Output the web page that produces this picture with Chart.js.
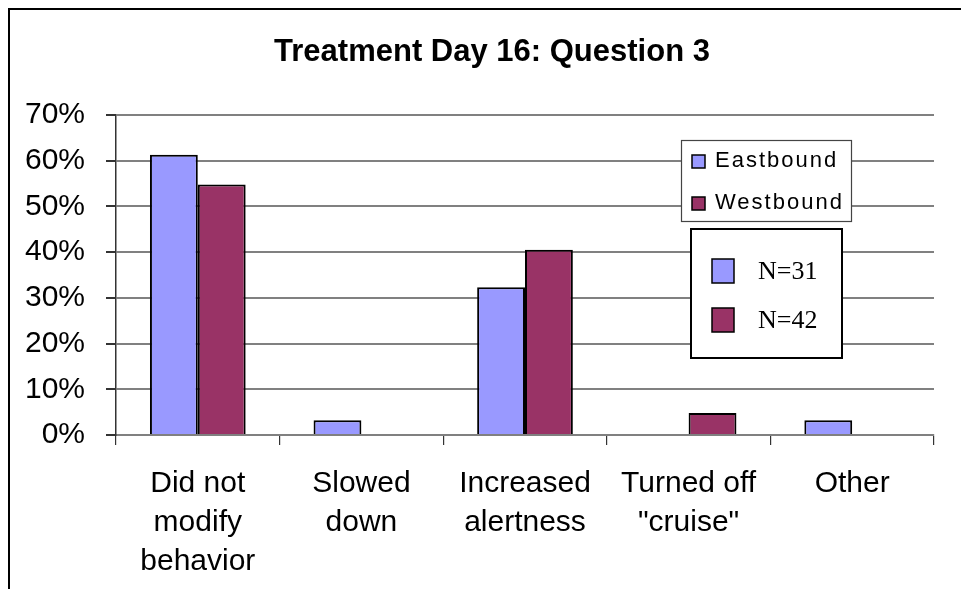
<!DOCTYPE html>
<html>
<head>
<meta charset="utf-8">
<script src="https://cdn.jsdelivr.net/npm/chart.js@4/dist/chart.umd.min.js"></script>
<style>
  html, body { margin: 0; padding: 0; background: #fff; }
  #wrap { width: 961px; height: 589px; }
</style>
</head>
<body>
<div id="wrap"><canvas id="chart" width="961" height="589"></canvas></div>
<script>
// data (fractions)
const categories = [
  ['Did not', 'modify', 'behavior'],
  ['Slowed', 'down'],
  ['Increased', 'alertness'],
  ['Turned off', '"cruise"'],
  ['Other']
];
const eastbound = [0.613, 0.032, 0.323, 0, 0.032];
const westbound = [0.548, 0, 0.405, 0.048, 0];
const seriesNames = ['Eastbound', 'Westbound'];
const sampleLabels = ['N=31', 'N=42'];
const yTicks = [0, 0.1, 0.2, 0.3, 0.4, 0.5, 0.6, 0.7];
const chartTitle = 'Treatment Day 16: Question 3';

const colors = ['#9999ff', '#993366'];

// frame, title and the two legend boxes
const extras = {
  id: 'extras',
  afterDraw(chart) {
    const ctx = chart.ctx;
    ctx.save();
    // outer frame (runs off right/bottom like the original)
    ctx.strokeStyle = '#000';
    ctx.lineWidth = 2;
    ctx.strokeRect(9, 9, 1000, 700);

    // title
    ctx.fillStyle = '#000';
    ctx.font = 'bold 31px "Liberation Sans", Arial, sans-serif';
    ctx.textAlign = 'center';
    ctx.textBaseline = 'middle';
    ctx.fillText(chartTitle, 492, 52);
    ctx.textAlign = 'left';

    // series legend
    ctx.fillStyle = '#fff';
    ctx.fillRect(681.5, 140.5, 170, 81);
    ctx.strokeStyle = '#444';
    ctx.lineWidth = 1.2;
    ctx.strokeRect(681.5, 140.5, 170, 81);
    ctx.font = '22px "Liberation Sans", Arial, sans-serif';
    seriesNames.forEach((name, i) => {
      const y = 161 + i * 42;
      ctx.fillStyle = colors[i];
      ctx.fillRect(692, y - 6, 13, 13);
      ctx.strokeStyle = '#000';
      ctx.lineWidth = 1.5;
      ctx.strokeRect(692, y - 6, 13, 13);
      ctx.fillStyle = '#000';
      ctx.letterSpacing = '2px';
      ctx.fillText(name, 715, y);
    });
    ctx.letterSpacing = '0px';

    // sample size box
    ctx.fillStyle = '#fff';
    ctx.fillRect(691, 229, 151, 129);
    ctx.strokeStyle = '#000';
    ctx.lineWidth = 2;
    ctx.strokeRect(691, 229, 151, 129);
    ctx.font = '26px "Liberation Serif", "Times New Roman", serif';
    sampleLabels.forEach((lab, i) => {
      const y = 271 + i * 49;
      ctx.fillStyle = colors[i];
      ctx.fillRect(712, y - 12, 22, 24);
      ctx.strokeStyle = '#000';
      ctx.lineWidth = 1.5;
      ctx.strokeRect(712, y - 12, 22, 24);
      ctx.fillStyle = '#000';
      ctx.fillText(lab, 758, y + 1);
    });
    ctx.restore();
  }
};

new Chart(document.getElementById('chart'), {
  type: 'bar',
  data: {
    labels: categories,
    datasets: [
      { label: seriesNames[0], data: eastbound, backgroundColor: colors[0], borderColor: '#000', borderWidth: 2 },
      { label: seriesNames[1], data: westbound, backgroundColor: colors[1], borderColor: '#000', borderWidth: 2 }
    ]
  },
  options: {
    responsive: false,
    animation: false,
    devicePixelRatio: 1,
    layout: { padding: { left: 0, right: 27, top: 115, bottom: 0 } },
    datasets: { bar: { categoryPercentage: 0.585, barPercentage: 1 } },
    plugins: {
      legend: { display: false },
      tooltip: { enabled: false },
      title: { display: false }
    },
    scales: {
      x: {
        grid: { display: true, drawOnChartArea: false, offset: true, tickLength: 10, color: '#333', lineWidth: 1.2 },
        border: { color: '#808080', width: 2 },
        ticks: {
          color: '#000',
          padding: 19,
          maxRotation: 0,
          autoSkip: false,
          font: { family: '"Liberation Sans", Arial, sans-serif', size: 30, lineHeight: 1.3 }
        },
        afterFit(scale) { scale.height = 154; }
      },
      y: {
        min: 0,
        max: 0.7,
        afterBuildTicks(scale) { scale.ticks = yTicks.map(v => ({ value: v })); },
        grid: { color: '#808080', lineWidth: 2, tickLength: 10, tickColor: '#333' },
        border: { color: '#333', width: 1.5 },
        ticks: {
          color: '#000',
          padding: 21,
          font: { family: '"Liberation Sans", Arial, sans-serif', size: 30 },
          callback: v => Math.round(v * 100) + '%'
        },
        afterFit(scale) { scale.width = 116; }
      }
    }
  },
  plugins: [extras]
});
</script>
</body>
</html>
